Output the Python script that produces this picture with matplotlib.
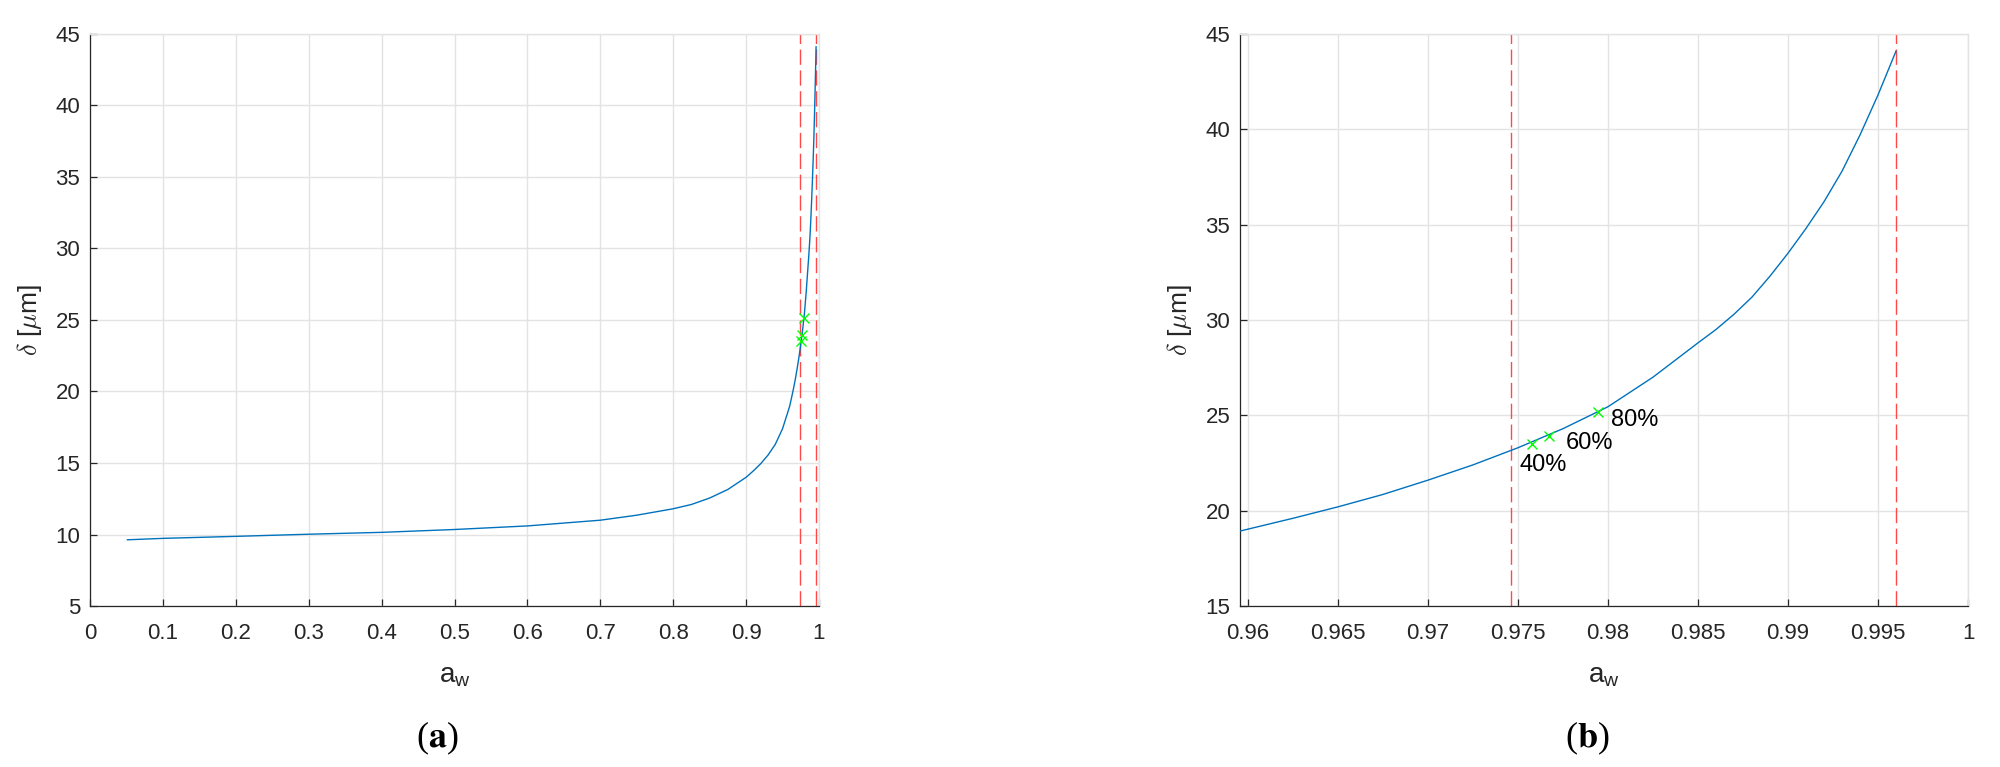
import numpy as np
import matplotlib
matplotlib.use("Agg")
import matplotlib.pyplot as plt

plt.rcParams['font.family'] = ['Liberation Sans', 'DejaVu Sans']
plt.rcParams['mathtext.fontset'] = 'cm'

# curve delta(aw)
aw = [0.0513, 0.1, 0.2, 0.3, 0.4, 0.5, 0.6, 0.7, 0.75, 0.8, 0.825, 0.85,
      0.875, 0.9, 0.91, 0.92, 0.93, 0.94, 0.95, 0.9596, 0.9625, 0.965,
      0.9675, 0.97, 0.9725, 0.975, 0.9775, 0.98, 0.9825, 0.985, 0.986,
      0.987, 0.988, 0.989, 0.99, 0.991, 0.992, 0.993, 0.994, 0.995, 0.996]
delta = [9.63, 9.73, 9.87, 10.02, 10.15, 10.35, 10.6, 11.0, 11.35, 11.8,
         12.1, 12.55, 13.15, 14.0, 14.45, 14.95, 15.55, 16.3, 17.4, 18.94,
         19.6, 20.2, 20.85, 21.6, 22.4, 23.3, 24.3, 25.45, 27.0, 28.8, 29.5,
         30.3, 31.2, 32.3, 33.5, 34.8, 36.2, 37.8, 39.7, 41.8, 44.1]

# marked points (40/60/80 %)
mark_aw = [0.97578, 0.97674, 0.97945]
mark_delta = [23.52, 23.93, 25.16]
mark_labels = ['40%', '60%', '80%']

# dashed limits
vlines = [0.9746, 0.996]

xticks_a = [0, 0.1, 0.2, 0.3, 0.4, 0.5, 0.6, 0.7, 0.8, 0.9, 1]
xticklabels_a = ['0', '0.1', '0.2', '0.3', '0.4', '0.5', '0.6', '0.7', '0.8', '0.9', '1']
yticks_a = [5, 10, 15, 20, 25, 30, 35, 40, 45]
xticks_b = [0.96, 0.965, 0.97, 0.975, 0.98, 0.985, 0.99, 0.995, 1]
xticklabels_b = ['0.96', '0.965', '0.97', '0.975', '0.98', '0.985', '0.99', '0.995', '1']
yticks_b = [15, 20, 25, 30, 35, 40, 45]

blue = '#0072BD'
red = '#FF4848'
green = '#00FF00'
dark = '#262626'
gridc = '#e3e3e3'

fig = plt.figure(figsize=(20, 7.67), dpi=100)
ax1 = fig.add_axes([0.045, 0.2099, 0.3645, 0.7458])
ax2 = fig.add_axes([0.62, 0.2099, 0.364, 0.7458])


def style(ax, xt, xtl, yt, xlim, ylim):
    ax.plot(aw, delta, color=blue, lw=1.0, zorder=3)
    for v in vlines:
        ax.axvline(v, color=red, lw=1.0, dashes=(11, 4), zorder=2)
    ax.plot(mark_aw, mark_delta, 'x', color=green, ms=7, mew=1.0, zorder=4)
    ax.set_xlim(*xlim)
    ax.set_ylim(*ylim)
    ax.set_xticks(xt)
    ax.set_xticklabels(xtl)
    ax.set_yticks(yt)
    ax.grid(True, color=gridc, lw=1.0, zorder=0)
    ax.set_axisbelow(True)
    for s in ['left', 'bottom']:
        ax.spines[s].set_color(dark)
        ax.spines[s].set_linewidth(0.9)
    for s in ['top', 'right']:
        ax.spines[s].set_color(gridc)
        ax.spines[s].set_linewidth(1.0)
    ax.tick_params(axis='both', direction='in', length=5, width=0.9,
                   colors=dark, labelsize=16)
    ax.tick_params(axis='x', pad=12)
    ax.tick_params(axis='y', pad=7)
    ax.set_xlabel(r'$\mathregular{a_w}$', fontsize=20, color=dark, labelpad=14)
    ax.set_ylabel(r'$\delta$ [$\mu$m]', fontsize=19, color=dark, labelpad=8)


style(ax1, xticks_a, xticklabels_a, yticks_a, (0, 1), (5, 45))
style(ax2, xticks_b, xticklabels_b, yticks_b, (0.95956, 1), (15, 45))

# labels next to the markers (pixel offsets)
offsets = [(-12, -10, 'top'), (16, -7, 'center'), (13, -8, 'center')]
for x, y, t, (dx, dy, va) in zip(mark_aw, mark_delta, mark_labels, offsets):
    ax2.annotate(t, (x, y), xytext=(dx, dy), textcoords='offset pixels',
                 ha='left', va=va, fontsize=17, color='black')

# sub-figure captions
fig.text(437 / 2000, 1 - 738 / 767, r'($\mathbf{a}$)', ha='center', va='center',
         fontsize=26, family='Liberation Serif', math_fontfamily='stix')
fig.text(1587 / 2000, 1 - 738 / 767, r'($\mathbf{b}$)', ha='center', va='center',
         fontsize=26, family='Liberation Serif', math_fontfamily='stix')

fig.savefig('out.png', dpi=100)
